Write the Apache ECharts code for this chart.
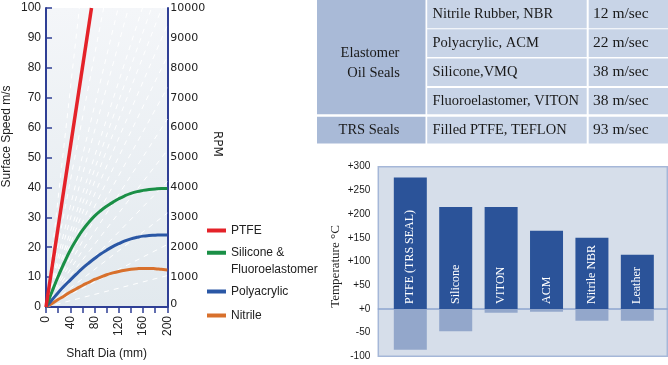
<!DOCTYPE html>
<html><head><meta charset="utf-8">
<script src="https://cdn.jsdelivr.net/npm/echarts@6/dist/echarts.min.js"></script>
<style>html,body{margin:0;padding:0;background:#fff}#c{width:668px;height:365px}</style>
</head><body><div id="c"></div>
<script>
// ---- Left chart data: surface speed (m/s) vs shaft diameter (mm)
const shaftDia = [0,10,20,30,40,50,60,70,80,90,100,110,120,130,140,150,160,170,180,190,200];
const nitrileSpeed = [0,1.2,2.5,3.7,5.0,6.1,7.2,8.2,9.2,10.0,10.8,11.4,11.9,12.3,12.6,12.8,12.9,12.9,12.8,12.6,12.4];
const polyacrylicSpeed = [0,2.4,4.8,7.0,9.0,11.0,12.9,14.6,16.2,17.7,19.0,20.2,21.2,22.1,22.8,23.3,23.7,23.9,24.0,24.1,24.1];
const siliconeSpeed = [0,5.2,10.2,14.8,19.0,22.5,25.6,28.2,30.4,32.2,33.7,35.0,36.2,37.2,38.0,38.6,39.0,39.3,39.5,39.6,39.6];
const ptfeDia = [0,75];
const ptfeSpeed = [0,100];
// dashed constant-RPM guide lines from the origin: end points [dia, speed]
const guideEnds = [[200,10.5],[200,20.9],[200,31.4],[200,41.9],[200,52.4],[200,62.8],[200,73.3],[200,83.8],[200,94.2],[191,100],[174,100],[159,100],[136,100],[119,100],[95,100],[76,100],[55,100]];
const rpmTicks = [0,1000,2000,3000,4000,5000,6000,7000,8000,9000,10000];
const legendNames = ['PTFE','Silicone &\nFluoroelastomer','Polyacrylic','Nitrile'];

// ---- Table data
const tableGroups = ['Elastomer\n  Oil Seals','TRS Seals'];
const tableMaterials = ['Nitrile Rubber, NBR','Polyacrylic, ACM','Silicone,VMQ','Fluoroelastomer, VITON','Filled PTFE, TEFLON'];
const tableSpeeds = ['12 m/sec','22 m/sec','38 m/sec','38 m/sec','93 m/sec'];

// ---- Right bar chart data: temperature range
const tempCategories = ['PTFE (TRS SEAL)','Silicone','VITON','ACM','Nitrile NBR','Leather'];
const tempMax = [277,215,215,165,150,114];
const tempMin = [-86,-47,-8,-6,-25,-25];

const NAVY = '#2f3f95';
const zip = (xs, ys) => xs.map((x, i) => [x, ys[i]]);

// table graphics
const SERIF = 'Liberation Serif';
const rowTops = [0, 29.3, 58.6, 87.9, 116.7];
const rowH = [28.3, 27.6, 27.4, 26.4, 26.7];
const tableG = [];
tableG.push({type:'rect', shape:{x:317, y:0, width:108.5, height:114.3}, style:{fill:'#a9bad7'}});
tableG.push({type:'rect', shape:{x:317, y:116.7, width:108.5, height:26.7}, style:{fill:'#a9bad7'}});
tableMaterials.forEach((m, i) => {
  tableG.push({type:'rect', shape:{x:427.2, y:rowTops[i], width:159.5, height:rowH[i]}, style:{fill:'#c8d4e7'}});
  tableG.push({type:'rect', shape:{x:588.7, y:rowTops[i], width:80, height:rowH[i]}, style:{fill:'#c8d4e7'}});
  tableG.push({type:'text', x:432.5, y:rowTops[i] + rowH[i]/2, style:{text:m, font:'14.5px "' + SERIF + '"', fill:'#1a1a1a', verticalAlign:'middle', align:'left'}});
  tableG.push({type:'text', x:593, y:rowTops[i] + rowH[i]/2, style:{text:tableSpeeds[i], font:'15.5px "' + SERIF + '"', fill:'#1a1a1a', verticalAlign:'middle', align:'left'}});
});
tableG.push({type:'text', x:370, y:63, style:{text:tableGroups[0], font:'14.5px "' + SERIF + '"', fill:'#1a1a1a', align:'center', verticalAlign:'middle', lineHeight:20}});
tableG.push({type:'text', x:369, y:130, style:{text:tableGroups[1], font:'14.5px "' + SERIF + '"', fill:'#1a1a1a', align:'center', verticalAlign:'middle'}});

const legendTops = [224.5, 228, 285.5, 309.5];
const legends = legendNames.map((n, i) => ({
  data: [n], left: 207, top: legendTops[i], orient: 'vertical', padding: 0,
  icon: 'rect', itemWidth: 19, itemHeight: 4, selectedMode: false,
  formatter: name => (name.indexOf('\n') >= 0 ? '\n' + name : name),
  textStyle: Object.assign({fontFamily:'Liberation Sans', fontSize:12, color:'#222'},
    i === 1 ? {lineHeight:16.5} : {})
}));

const chart = echarts.init(document.getElementById('c'), null, {renderer:'canvas'});
chart.setOption({
  animation: false,
  graphic: tableG,
  legend: legends,
  grid: [
    {left:41.3, top:8, right:500.7, bottom:51, show:true, borderWidth:0,
     backgroundColor: new echarts.graphic.LinearGradient(0,0,0,1,[{offset:0,color:'#f4f6f9'},{offset:1,color:'#e2e9ee'}])},
    {left:378.3, top:166.7, right:0.7, bottom:8.7, show:true, backgroundColor:'#d6deea', borderColor:'#a5b7d8', borderWidth:1.5}
  ],
  xAxis: [
    {gridIndex:0, type:'value', min:0, max:200, interval:20,
     name:'Shaft Dia (mm)', nameLocation:'middle', nameGap:41,
     nameTextStyle:{fontFamily:'Liberation Sans', fontSize:12, color:'#222'},
     axisLine:{lineStyle:{color:NAVY, width:2}},
     axisTick:{show:true, length:6, lineStyle:{color:NAVY, width:1.5}},
     splitLine:{show:false},
     axisLabel:{rotate:90, margin:9, fontFamily:'Liberation Sans', fontSize:12, color:'#222',
       formatter: v => (v % 40 === 0 ? String(v) : '')}},
    {gridIndex:1, type:'value', min:-0.705, max:5.66,
     axisLine:{show:true, onZero:true, lineStyle:{color:'#8da5cf', width:1.5}},
     axisTick:{show:false}, axisLabel:{show:false}, splitLine:{show:false}}
  ],
  yAxis: [
    {gridIndex:0, type:'value', min:0, max:100, interval:10,
     name:'Surface Speed m/s', nameLocation:'middle', nameGap:33, nameRotate:90,
     nameTextStyle:{fontFamily:'Liberation Sans', fontSize:12, color:'#222', padding:[0,0,0,42]},
     axisLine:{show:true, lineStyle:{color:NAVY, width:2}},
     axisTick:{show:true, inside:true, length:6, lineStyle:{color:NAVY, width:1.5}},
     splitLine:{show:false},
     axisLabel:{margin:5, fontFamily:'Liberation Sans', fontSize:12, color:'#222'}},
    {gridIndex:0, type:'value', position:'right', min:0, max:10000, interval:1000,
     name:'RPM', nameLocation:'middle', nameGap:44, nameRotate:-90,
     nameTextStyle:{fontFamily:'DejaVu Sans', fontSize:12, color:'#222', padding:[0,27,0,0]},
     axisLine:{show:true, lineStyle:{color:NAVY, width:2}},
     axisTick:{show:false}, splitLine:{show:false},
     axisLabel:{margin:3, fontFamily:'DejaVu Sans', fontSize:11, color:'#222',
       formatter: v => (rpmTicks.indexOf(v) === 0 ? '{z|0}' : String(v)),
       rich:{z:{fontFamily:'DejaVu Sans', fontSize:11, color:'#222', padding:[0,0,5,0]}}}},
    {gridIndex:1, type:'value', min:-100, max:300, interval:50,
     name:'Temperature °C', nameLocation:'middle', nameGap:36, nameRotate:90,
     nameTextStyle:{fontFamily:SERIF, fontSize:13, color:'#222', padding:[0,10,0,0]},
     axisLine:{show:false}, axisTick:{show:false}, splitLine:{show:false},
     axisLabel:{margin:8, fontFamily:'Liberation Sans', fontSize:10, color:'#1a1a1a',
       formatter: v => (v >= 0 ? '+' + v : String(v))}}
  ],
  series: [
    {type:'lines', coordinateSystem:'cartesian2d', xAxisIndex:0, yAxisIndex:0, z:1, silent:true,
     data: guideEnds.map(e => ({coords:[[0,0], e]})),
     lineStyle:{color:'#ffffff', width:1, type:[5,5], opacity:0.95}},
    {name:legendNames[3], type:'line', xAxisIndex:0, yAxisIndex:0, data:zip(shaftDia, nitrileSpeed),
     smooth:true, showSymbol:false, lineStyle:{width:3, color:'#d8702c'}, itemStyle:{color:'#d8702c'}, z:3},
    {name:legendNames[2], type:'line', xAxisIndex:0, yAxisIndex:0, data:zip(shaftDia, polyacrylicSpeed),
     smooth:true, showSymbol:false, lineStyle:{width:3, color:'#2a57a5'}, itemStyle:{color:'#2a57a5'}, z:3},
    {name:legendNames[1], type:'line', xAxisIndex:0, yAxisIndex:0, data:zip(shaftDia, siliconeSpeed),
     smooth:true, showSymbol:false, lineStyle:{width:3, color:'#1a8f46'}, itemStyle:{color:'#1a8f46'}, z:3},
    {name:legendNames[0], type:'line', xAxisIndex:0, yAxisIndex:0, data:zip(ptfeDia, ptfeSpeed),
     showSymbol:false, lineStyle:{width:3.5, color:'#e42229'}, itemStyle:{color:'#e42229'}, z:4},
    {name:'max', type:'bar', xAxisIndex:1, yAxisIndex:2, stack:'temp', barWidth:33,
     data: tempCategories.map((c, i) => ({name:c, value:[i, tempMax[i]]})),
     itemStyle:{color:'#2b5399'},
     label:{show:true, position:'insideBottom', rotate:90, align:'left', verticalAlign:'middle', distance:5,
       formatter:'{b}', color:'#ffffff', fontFamily:SERIF, fontSize:12}},
    {name:'min', type:'bar', xAxisIndex:1, yAxisIndex:2, stack:'temp', barWidth:33,
     data: tempCategories.map((c, i) => ({name:c, value:[i, tempMin[i]]})),
     itemStyle:{color:'#93a7cb'}}
  ]
});
</script></body></html>
